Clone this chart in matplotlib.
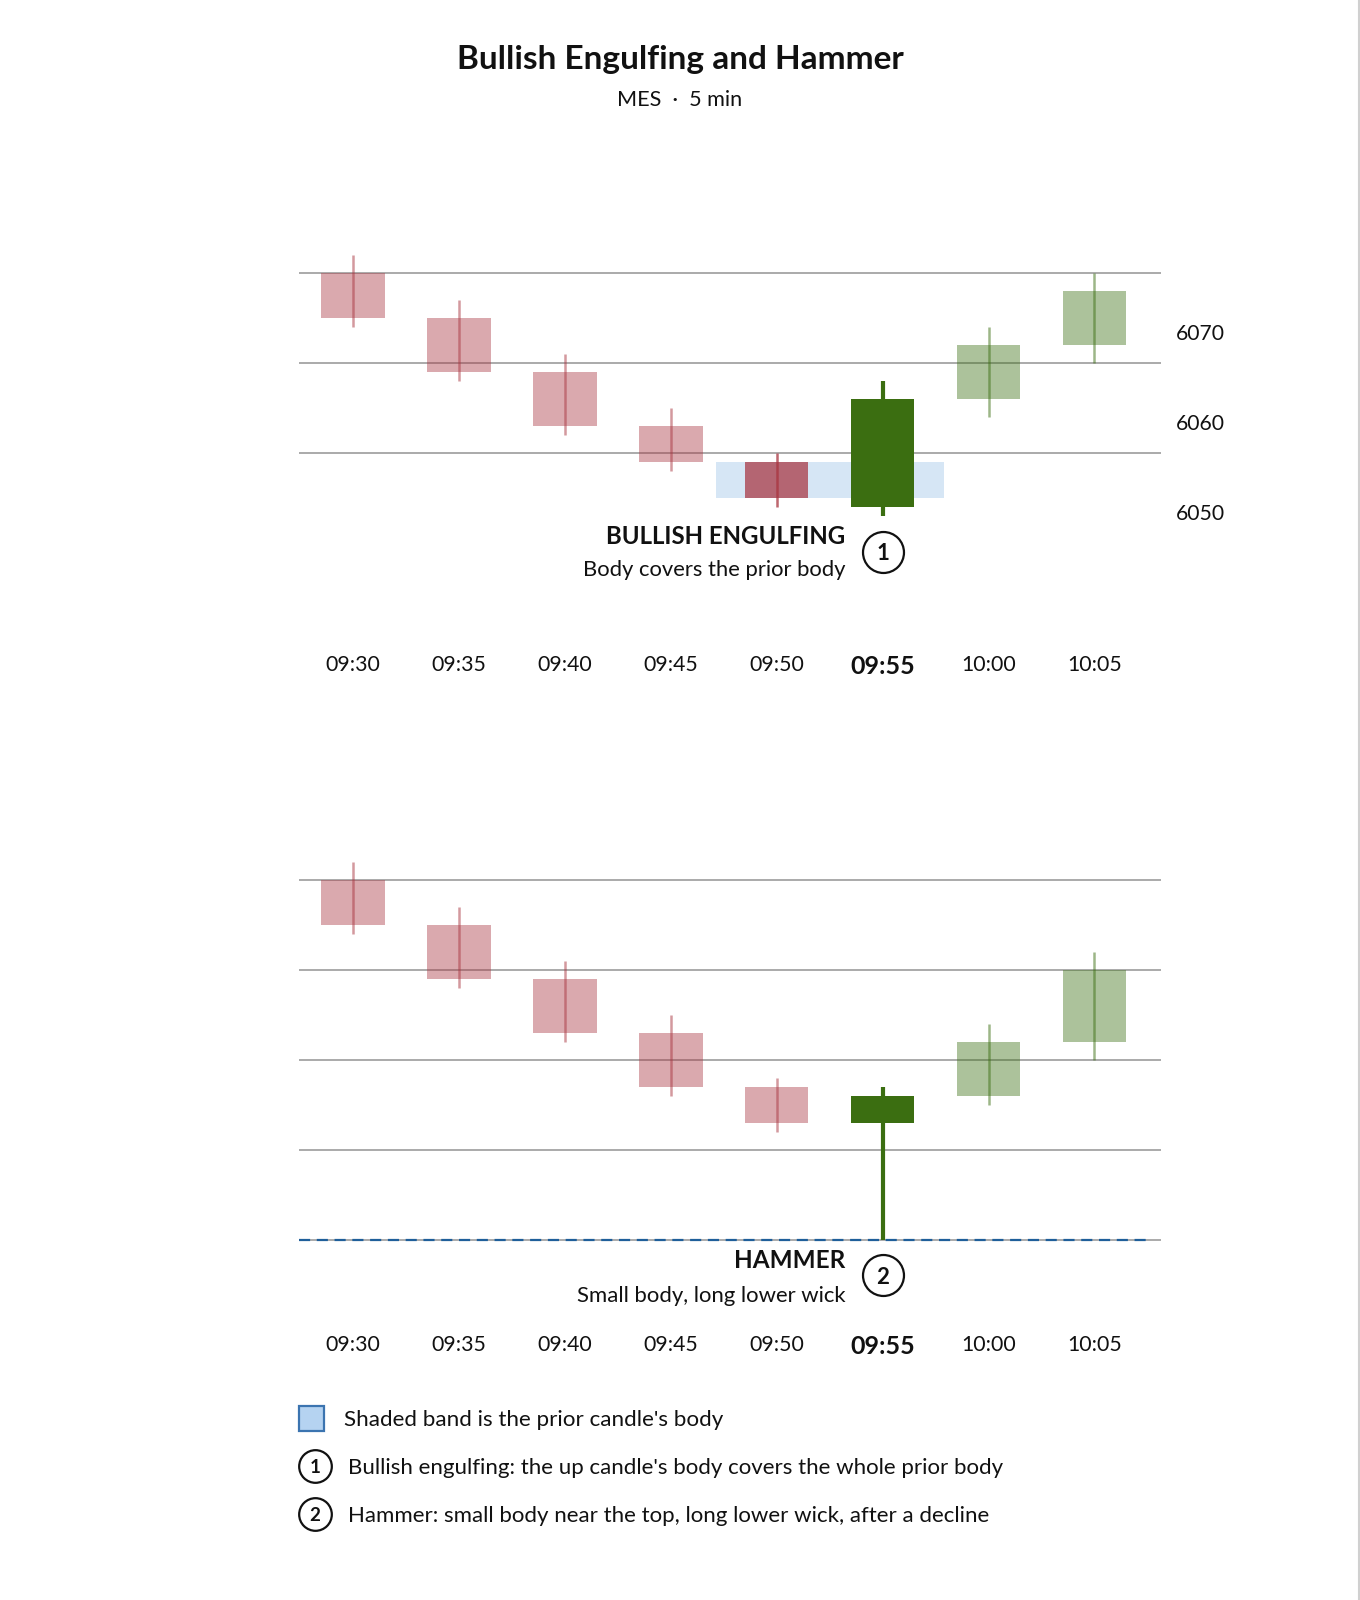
import matplotlib
matplotlib.use("Agg")
import matplotlib.pyplot as plt
from matplotlib.patches import Rectangle
from matplotlib.lines import Line2D

plt.rcParams['font.family'] = ['Lato', 'DejaVu Sans']

# ---------------- data ----------------
times = ["09:30", "09:35", "09:40", "09:45", "09:50", "09:55", "10:00", "10:05"]

# Bullish engulfing panel
eng_open  = [6076.5, 6071.5, 6065.5, 6059.5, 6055.5, 6050.5, 6062.5, 6068.5]
eng_high  = [6078.5, 6073.5, 6067.5, 6061.5, 6056.5, 6064.5, 6070.5, 6076.5]
eng_low   = [6070.5, 6064.5, 6058.5, 6054.5, 6050.5, 6049.5, 6060.5, 6066.5]
eng_close = [6071.5, 6065.5, 6059.5, 6055.5, 6051.5, 6062.5, 6068.5, 6074.5]

# Hammer panel
ham_open  = [6076.5, 6071.5, 6065.5, 6059.5, 6053.5, 6049.5, 6052.5, 6058.5]
ham_high  = [6078.5, 6073.5, 6067.5, 6061.5, 6054.5, 6053.5, 6060.5, 6068.5]
ham_low   = [6070.5, 6064.5, 6058.5, 6052.5, 6048.5, 6036.5, 6051.5, 6056.5]
ham_close = [6071.5, 6065.5, 6059.5, 6053.5, 6049.5, 6052.5, 6058.5, 6066.5]

signal_idx = 5
price_ticks = [6050, 6060, 6070]
grid_top = [6056.5, 6066.5, 6076.5]
grid_bottom = [6036.5, 6046.5, 6056.5, 6066.5, 6076.5]

title = "Bullish Engulfing and Hammer"
subtitle = "MES  \u00b7  5 min"
legend_lines = ["Shaded band is the prior candle's body",
                "Bullish engulfing: the up candle's body covers the whole prior body",
                "Hammer: small body near the top, long lower wick, after a decline"]

# ---------------- styling ----------------
RED = "#a8343f"
GREEN = "#3b6e11"
GRID = "#aaaaaa"
BAND = "#d6e6f5"
W, H = 1360, 1600
fig = plt.figure(figsize=(W / 100, H / 100), dpi=100)
fig.patch.set_facecolor("white")

PX_PER_UNIT = 9.0
XL, XR = 299.0, 1160.7
XLIM = (-0.51, 7.625)


def make_axes(y_of_6070, ylo, yhi):
    top_px = y_of_6070 - (yhi - 6070) * PX_PER_UNIT
    bot_px = y_of_6070 + (6070 - ylo) * PX_PER_UNIT
    ax = fig.add_axes([XL / W, 1 - bot_px / H, (XR - XL) / W, (bot_px - top_px) / H])
    ax.set_xlim(*XLIM)
    ax.set_ylim(ylo, yhi)
    for s in ax.spines.values():
        s.set_visible(False)
    ax.set_facecolor("none")
    return ax, bot_px


def draw_candles(ax, o, h, l, c, highlight, prior_dark):
    for i in range(len(o)):
        up = c[i] >= o[i]
        col = GREEN if up else RED
        if i in highlight:
            ba, wa, lw = 1.0, 1.0, 3.0
        elif i in prior_dark:
            ba, wa, lw = 0.72, 0.75, 1.8
        else:
            ba, wa, lw = 0.42, 0.5, 1.8
        lo_b, hi_b = min(o[i], c[i]), max(o[i], c[i])
        ax.add_patch(Rectangle((i - 0.3, lo_b), 0.6, hi_b - lo_b, facecolor=col,
                               edgecolor="none", alpha=ba, zorder=3))
        ax.vlines(i, l[i], h[i], color=col, alpha=wa, lw=lw, zorder=4)


def xlabels(ax, pad):
    ax.set_xticks(range(len(times)))
    ax.set_xticklabels(times)
    ax.tick_params(axis="x", length=0, pad=pad, labelsize=15.3, colors="#111111")
    lab = ax.get_xticklabels()[signal_idx]
    lab.set_fontweight("bold")
    lab.set_fontsize(18)


def circle_badge(x, y, num, size, fs, transform):
    fig.add_artist(Line2D([x], [y], marker="o", markersize=size, markerfacecolor="white",
                          markeredgecolor="#111111", markeredgewidth=1.6,
                          transform=transform, zorder=6))
    fig.text(x, y, num, ha="center", va="center_baseline", fontsize=fs, fontweight="bold",
             color="#111111", transform=transform, zorder=7)


def fx(px):
    return px / W


def fy(py):
    return 1 - py / H


# ---------------- top panel ----------------
ax1, bot1 = make_axes(331.7, 6047.0, 6080.0)
for g in grid_top:
    ax1.axhline(g, color=GRID, lw=1.4, zorder=1)
p = signal_idx - 1
band_lo = min(eng_open[p], eng_close[p])
band_hi = max(eng_open[p], eng_close[p])
ax1.add_patch(Rectangle((p - 0.575, band_lo), (signal_idx - p) + 1.15, band_hi - band_lo,
                        facecolor=BAND, edgecolor="none", zorder=2))
draw_candles(ax1, eng_open, eng_high, eng_low, eng_close, {signal_idx}, {p})
ax1.yaxis.tick_right()
ax1.set_yticks(price_ticks)
ax1.set_yticklabels([str(t) for t in price_ticks])
ax1.tick_params(axis="y", length=0, pad=11, labelsize=15.2, colors="#111111")
xlabels(ax1, 84)

fig.text(fx(845.6), fy(536.5), "BULLISH ENGULFING", ha="right", va="center",
         fontsize=17.3, fontweight="bold", color="#111111")
fig.text(fx(845.6), fy(570.5), "Body covers the prior body", ha="right", va="center",
         fontsize=15.8, color="#111111")
circle_badge(fx(883), fy(552), "1", 29.5, 16, fig.transFigure)

# ---------------- bottom panel ----------------
ax2, bot2 = make_axes(939.0, 6034.0, 6080.0)
for g in grid_bottom:
    ax2.axhline(g, color=GRID, lw=1.4, zorder=1)
ax2.hlines(ham_low[signal_idx], -0.51, 7.5, colors="#1f5f9a", lw=1.6,
           linestyles=(0, (5, 3)), zorder=2)
draw_candles(ax2, ham_open, ham_high, ham_low, ham_close, {signal_idx}, set())
ax2.set_yticks([])
xlabels(ax2, 52)

fig.text(fx(845.6), fy(1260.7), "HAMMER", ha="right", va="center",
         fontsize=17.5, fontweight="bold", color="#111111")
fig.text(fx(845.6), fy(1295.5), "Small body, long lower wick", ha="right", va="center",
         fontsize=15.9, color="#111111")
circle_badge(fx(883), fy(1275), "2", 29.5, 16, fig.transFigure)

# ---------------- titles ----------------
fig.text(0.5, fy(60), title, ha="center", va="center", fontsize=24,
         fontweight="bold", color="#111111")
fig.text(0.5, fy(100), subtitle, ha="center", va="center", fontsize=15.6, color="#111111")

# ---------------- footer legend ----------------
fig.add_artist(Rectangle((fx(299), fy(1430.5)), 24.5 / W, 24.5 / H, facecolor="#b5d3f1",
                         edgecolor="#3b74b0", lw=1.6, transform=fig.transFigure))
fig.text(fx(344), fy(1420), legend_lines[0], ha="left", va="center", fontsize=16.1,
         color="#111111")
circle_badge(fx(315), fy(1466), "1", 23.5, 13.5, fig.transFigure)
fig.text(fx(348), fy(1468), legend_lines[1], ha="left", va="center", fontsize=16.0,
         color="#111111")
circle_badge(fx(315), fy(1514), "2", 23.5, 13.5, fig.transFigure)
fig.text(fx(348), fy(1516), legend_lines[2], ha="left", va="center", fontsize=16.0,
         color="#111111")

# right edge border line
fig.add_artist(Line2D([fx(1359), fx(1359)], [0, 1], color="#d0d0d0", lw=1.5,
                      transform=fig.transFigure))

fig.savefig("out.png", dpi=100, facecolor="white")
